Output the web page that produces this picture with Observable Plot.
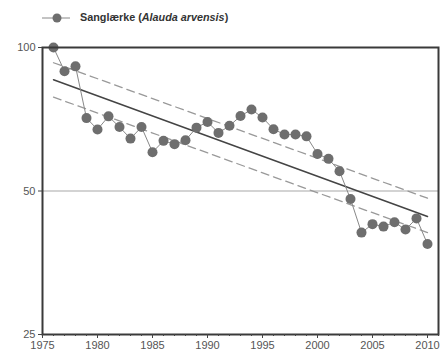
<!DOCTYPE html>
<html>
<head>
<meta charset="utf-8">
<script src="https://cdn.jsdelivr.net/npm/d3@7"></script>
<script src="https://cdn.jsdelivr.net/npm/@observablehq/plot@0.6"></script>
<style>
  body { margin: 0; background: #fff; font-family: "Liberation Sans", Arial, sans-serif; }
  #legend { height: 34px; position: relative; }
  #legend svg { position: absolute; left: 40px; top: 10px; }
  #legend span { position: absolute; left: 80px; top: 11px; font-size: 10.8px; font-weight: bold; color: #333; }
</style>
</head>
<body>
<div id="legend">
  <svg width="34" height="16"><line x1="2" y1="8" x2="30" y2="8" stroke="#888" stroke-width="1"/><circle cx="17" cy="8" r="4.5" fill="#6e6e6e"/></svg>
  <span>Sanglærke (<i>Alauda arvensis</i>)</span>
</div>
<div id="chart"></div>
<script>
const years = [1976,1977,1978,1979,1980,1981,1982,1983,1984,1985,1986,1987,1988,1989,1990,1991,1992,1993,1994,1995,1996,1997,1998,1999,2000,2001,2002,2003,2004,2005,2006,2007,2008,2009,2010];
const index = [100,89.2,91.3,71.1,67.3,71.7,68.1,64.4,68.1,60.3,63.7,62.7,63.9,67.9,69.8,66.2,68.5,71.8,74.1,71.3,67.4,65.7,65.7,65.1,59.8,58.4,55.0,48.1,40.9,42.6,42.1,43.0,41.5,43.8,38.7];
const trendYears = [1976, 2010];
const trend = [85.6, 44.2];
const upper = [92.9, 48.3];
const lower = [78.7, 40.9];
const xTicks = [1975,1980,1985,1990,1995,2000,2005,2010];
const yTicks = [25, 50, 100];
const minorYears = d3.range(1975, 2012);

const pts = years.map((y, i) => ({year: y, value: index[i]}));
const tr = trendYears.map((y, i) => ({year: y, t: trend[i], u: upper[i], l: lower[i]}));

const chart = Plot.plot({
  width: 444,
  height: 326,
  marginTop: 13,
  marginBottom: 26,
  marginLeft: 42,
  marginRight: 6,
  style: {fontFamily: "Liberation Sans, Arial, sans-serif", fontSize: "11px", color: "#555", background: "#fff"},
  x: {domain: [1975, 2011]},
  y: {type: "log", domain: [25, 100]},
  marks: [
    Plot.ruleY([50], {stroke: "#c4c4c4", strokeWidth: 1.5}),
    Plot.line(tr, {x: "year", y: "u", stroke: "#999", strokeWidth: 1.3, strokeDasharray: "8,5"}),
    Plot.line(tr, {x: "year", y: "l", stroke: "#999", strokeWidth: 1.3, strokeDasharray: "8,5"}),
    Plot.line(tr, {x: "year", y: "t", stroke: "#444", strokeWidth: 1.5}),
    Plot.line(pts, {x: "year", y: "value", stroke: "#888", strokeWidth: 1}),
    Plot.dot(pts, {x: "year", y: "value", r: 5, fill: "#6e6e6e"}),
    Plot.frame({stroke: "#3a3a3a", strokeWidth: 2}),
    Plot.axisX(minorYears, {tickSize: 2, label: null, tickFormat: () => "", stroke: "#444"}),
    Plot.axisX(xTicks, {tickSize: 4, tickPadding: 3, label: null, tickFormat: d => String(d), stroke: "#444", fill: "#555"}),
    Plot.axisY(yTicks, {tickSize: 4, tickPadding: 3, label: null, tickFormat: d => String(d), stroke: "#444", fill: "#555"})
  ]
});
document.getElementById("chart").appendChild(chart);
</script>
</body>
</html>
